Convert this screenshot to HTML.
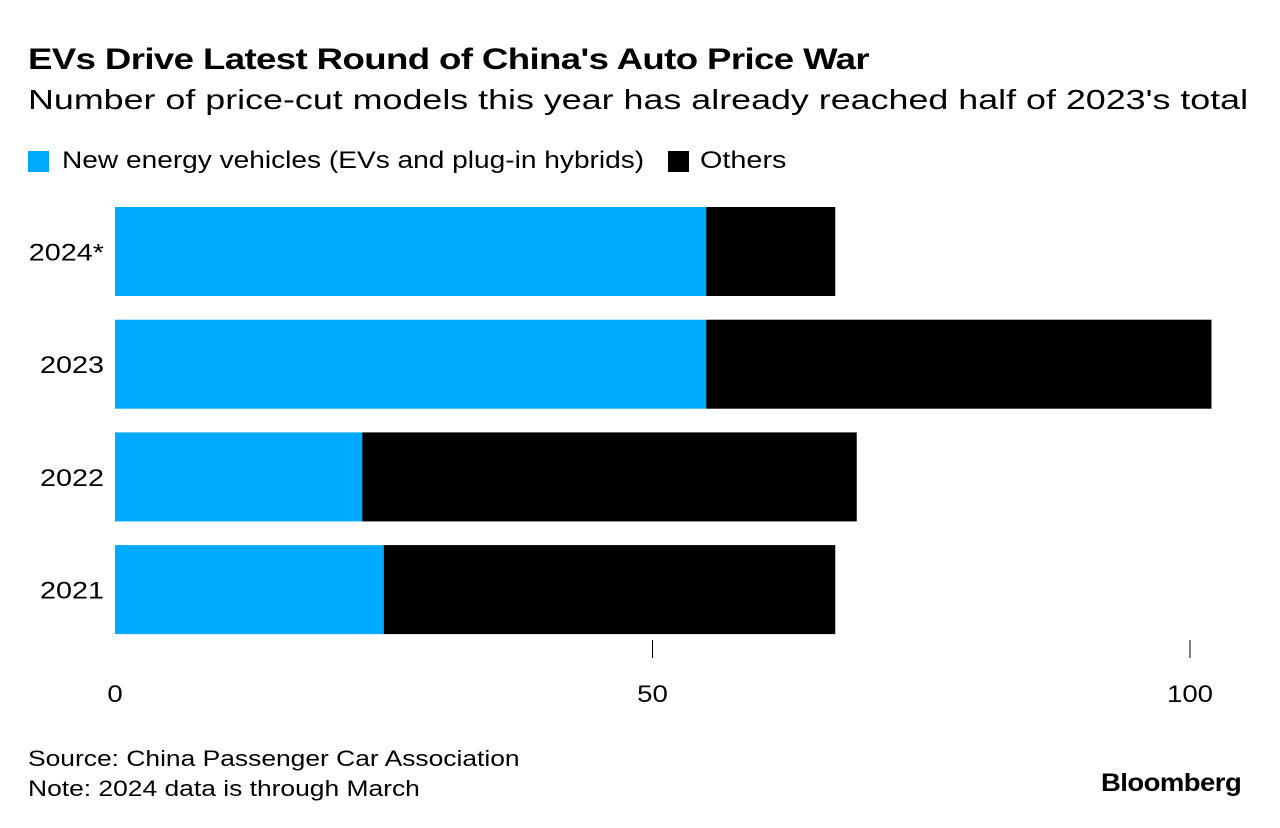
<!DOCTYPE html>
<html><head><meta charset="utf-8"><style>
body{margin:0;background:#fff;width:1280px;height:828px;overflow:hidden;font-family:"Liberation Sans",sans-serif;color:#000}
.t{position:absolute;white-space:nowrap;transform-origin:0 0}
</style></head><body>
<div class="t" style="left:28px;top:43px;font-size:30px;font-weight:bold;letter-spacing:-0.5px;transform:scaleX(1.22)">EVs Drive Latest Round of China's Auto Price War</div>
<div class="t" style="left:28px;top:84px;font-size:28px;transform:scaleX(1.28)">Number of price-cut models this year has already reached half of 2023's total</div>
<div style="position:absolute;left:28px;top:151px;width:21px;height:21px;background:#00aaff"></div>
<div class="t" style="left:62px;top:147px;font-size:24px;transform:scaleX(1.17)">New energy vehicles (EVs and plug-in hybrids)</div>
<div style="position:absolute;left:668px;top:151px;width:21px;height:21px;background:#000"></div>
<div class="t" style="left:700px;top:147px;font-size:24px;transform:scaleX(1.2)">Others</div>
<svg id="chart" width="1280" height="828" style="position:absolute;left:0;top:0"></svg>
<div class="t" style="left:28px;top:744px;font-size:22px;line-height:30px;transform:scaleX(1.2)">Source: China Passenger Car Association<br>Note: 2024 data is through March</div>
<div class="t" style="left:1101px;top:769px;font-size:25px;font-weight:bold;letter-spacing:-0.5px;transform:scaleX(1.1)">Bloomberg</div>
<script>
const categories=["2024*","2023","2022","2021"];
const nevValues=[55,55,23,25];
const otherValues=[12,47,46,42];
const tickValues=[0,50,100];
const tickLabels=["0","50","100"];
const svg=document.getElementById('chart');
const NS="http://www.w3.org/2000/svg";
const x=v=>115+v*10.75;
const yTop=i=>207+i*112.7;
const bh=89;
function mk(tag,attrs){const e=document.createElementNS(NS,tag);for(const k in attrs)e.setAttribute(k,attrs[k]);svg.appendChild(e);return e;}
categories.forEach((c,i)=>{
  const r1=mk('rect',{x:x(0),y:yTop(i),width:x(nevValues[i])-x(0),height:bh,fill:'#00aaff'});
  
  
  const r2=mk('rect',{x:x(nevValues[i]),y:yTop(i),width:x(nevValues[i]+otherValues[i])-x(nevValues[i]),height:bh,fill:'#000'});
  
  
  const t=mk('text',{x:0,y:0,transform:'translate(104,'+(yTop(i)+bh/2+9)+') scale(1.2,1)','text-anchor':'end','font-size':24,'font-family':'Liberation Sans, sans-serif'});
  t.textContent=c;
  
  
});
tickValues.forEach((v,i)=>{
  if(v>0){const l=mk('line',{x1:x(v),x2:x(v),y1:640,y2:658,stroke:'#000','stroke-width':1});
  
  }
  const t=mk('text',{x:0,y:0,transform:'translate('+x(v)+',702) scale(1.15,1)','text-anchor':'middle','font-size':24,'font-family':'Liberation Sans, sans-serif'});
  t.textContent=tickLabels[i];
  
  
});
</script>
</body></html>
